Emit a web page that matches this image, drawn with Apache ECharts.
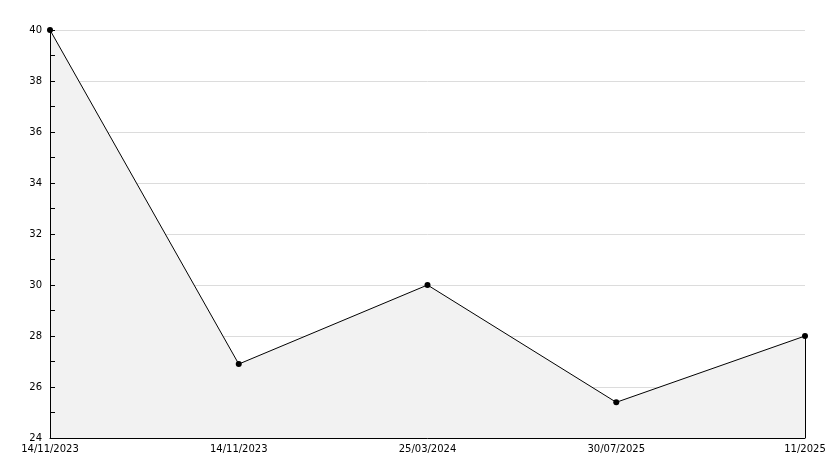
<!DOCTYPE html>
<html>
<head>
<meta charset="utf-8">
<script src="https://cdn.jsdelivr.net/npm/echarts@6/dist/echarts.min.js"></script>
<style>
  html, body { margin: 0; padding: 0; background: #fff; }
  #chart { width: 834px; height: 468px; }
</style>
</head>
<body>
<div id="chart"></div>
<script>
const dates = ['14/11/2023', '14/11/2023', '25/03/2024', '30/07/2025', '11/2025'];
const values = [40, 26.9, 30, 25.4, 28];
const yMin = 24;
const yMax = 40;
const yStep = 2;

const chart = echarts.init(document.getElementById('chart'));
const lastIdx = dates.length - 1;

chart.setOption({
  backgroundColor: '#fff',
  animation: false,
  grid: { left: 50, right: 29, top: 30, bottom: 30 },
  xAxis: {
    type: 'category',
    data: dates,
    boundaryGap: false,
    z: 5,
    axisLine: { lineStyle: { color: '#000', width: 1 } },
    axisTick: { show: false },
    axisLabel: {
      color: '#000',
      fontFamily: 'DejaVu Sans',
      fontSize: 10,
      margin: 6,
      interval: 0
    },
    splitLine: { show: false }
  },
  yAxis: [{
    // grid lines, drawn below the area
    type: 'value',
    min: yMin,
    max: yMax,
    interval: yStep,
    axisLine: { show: false },
    axisTick: { show: false },
    axisLabel: {
      color: '#000',
      fontFamily: 'DejaVu Sans',
      fontSize: 10,
      margin: 8,
      padding: [3, 0, 0, 0]
    },
    splitLine: { show: true, lineStyle: { color: '#dcdcdc', width: 1 } }
  }, {
    // axis line and ticks, drawn over the area
    type: 'value',
    position: 'left',
    min: yMin,
    max: yMax,
    interval: yStep,
    z: 5,
    axisLine: { show: true, onZero: false, lineStyle: { color: '#000', width: 1 } },
    axisTick: { show: true, inside: true, length: 5, lineStyle: { color: '#000' } },
    minorTick: { show: true, splitNumber: 2, length: 5, lineStyle: { color: '#000' } },
    axisLabel: { show: false },
    splitLine: { show: false }
  }],
  series: [{
    type: 'line',
    data: values,
    symbol: 'circle',
    symbolSize: 6,
    itemStyle: { color: '#000' },
    lineStyle: { color: '#000', width: 1 },
    areaStyle: { color: '#f2f2f2', opacity: 1, origin: 'start' },
    markLine: {
      silent: true,
      symbol: 'none',
      label: { show: false },
      lineStyle: { color: '#000', width: 1, type: 'solid' },
      data: [[
        { coord: [lastIdx, values[lastIdx]] },
        { coord: [lastIdx, yMin] }
      ]]
    }
  }]
});
</script>
</body>
</html>
